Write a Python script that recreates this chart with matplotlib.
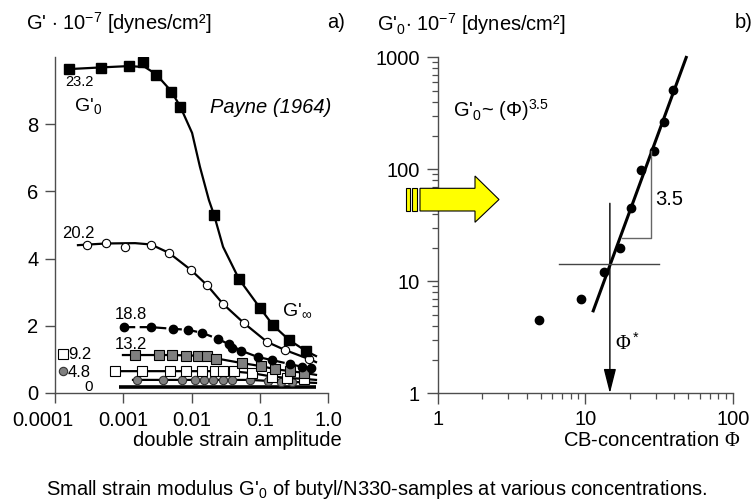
import numpy as np
import matplotlib
matplotlib.use('Agg')
import matplotlib.pyplot as plt
from matplotlib.patches import Polygon, Rectangle, FancyArrowPatch
from matplotlib.transforms import ScaledTranslation

plt.rcParams['font.family'] = ['Liberation Sans', 'DejaVu Sans']
plt.rcParams['mathtext.fontset'] = 'custom'
plt.rcParams['mathtext.rm'] = 'Liberation Sans'
plt.rcParams['mathtext.it'] = 'Liberation Sans:italic'
plt.rcParams['mathtext.bf'] = 'Liberation Sans:bold'
plt.rcParams['mathtext.sf'] = 'Liberation Serif'

# ---------------- data: panel a (G' vs double strain amplitude) ----------------
s232_x = [1.60e-4, 4.72e-4, 1.21e-3, 1.95e-3, 3.02e-3, 5.01e-3, 6.79e-3, 2.14e-2, 4.97e-2, 0.101, 0.156, 0.268, 0.476]
s232_y = [9.64, 9.67, 9.73, 9.85, 9.46, 8.96, 8.51, 5.30, 3.39, 2.53, 2.02, 1.58, 1.25]
s232_fit_x = [1.60e-4, 4.72e-4, 1.21e-3, 2.08e-3, 3.02e-3, 5.01e-3, 6.79e-3, 1.02e-2, 1.33e-2, 1.80e-2, 2.14e-2, 2.90e-2, 4.97e-2, 0.101, 0.156, 0.268, 0.476, 0.667]
s232_fit_y = [9.64, 9.69, 9.73, 9.70, 9.49, 8.99, 8.54, 7.74, 6.73, 5.74, 5.30, 4.35, 3.39, 2.53, 2.02, 1.58, 1.25, 1.10]

s202_x = [2.94e-4, 5.58e-4, 1.06e-3, 2.55e-3, 4.68e-3, 9.84e-3, 1.69e-2, 2.90e-2, 5.87e-2, 0.128, 0.234, 0.527]
s202_y = [4.40, 4.46, 4.35, 4.40, 4.17, 3.66, 3.21, 2.65, 2.08, 1.52, 1.28, 1.01]
s202_fit_x = [2.17e-4, 5.58e-4, 1.49e-3, 2.55e-3, 4.68e-3, 9.84e-3, 1.69e-2, 2.90e-2, 5.87e-2, 0.128, 0.234, 0.527, 0.667]
s202_fit_y = [4.40, 4.45, 4.46, 4.42, 4.17, 3.66, 3.21, 2.65, 2.08, 1.52, 1.28, 1.01, 0.92]

s188_x = [1.03e-3, 2.55e-3, 5.36e-3, 8.89e-3, 1.43e-2, 2.44e-2, 3.54e-2, 3.92e-2, 5.31e-2, 9.42e-2, 0.151, 0.277, 0.416, 0.564]
s188_y = [1.96, 1.96, 1.90, 1.88, 1.79, 1.61, 1.46, 1.34, 1.25, 1.07, 0.98, 0.86, 0.77, 0.74]
s188_fit_x = [1.03e-3, 2.55e-3, 5.36e-3, 8.89e-3, 1.43e-2, 2.44e-2, 3.54e-2, 5.31e-2, 9.42e-2, 0.151, 0.277, 0.416, 0.667]
s188_fit_y = [1.96, 1.96, 1.91, 1.88, 1.79, 1.61, 1.45, 1.26, 1.07, 0.98, 0.86, 0.78, 0.71]

s132_x = [1.49e-3, 3.34e-3, 5.18e-3, 8.30e-3, 1.24e-2, 1.69e-2, 2.29e-2, 5.50e-2, 0.104, 0.167, 0.277, 0.445]
s132_y = [1.13, 1.13, 1.13, 1.10, 1.10, 1.10, 1.01, 0.89, 0.80, 0.71, 0.65, 0.60]
s132_fit_x = [9.9e-4, 1.49e-3, 5.18e-3, 1.24e-2, 1.69e-2, 2.29e-2, 5.50e-2, 0.104, 0.167, 0.277, 0.445, 0.667]
s132_fit_y = [1.13, 1.13, 1.13, 1.11, 1.09, 1.03, 0.89, 0.80, 0.71, 0.65, 0.60, 0.54]

s92_x = [7.57e-4, 1.88e-3, 4.84e-3, 8.30e-3, 1.43e-2, 2.21e-2, 2.90e-2, 4.20e-2, 7.69e-2, 0.151, 0.251, 0.445]
s92_y = [0.65, 0.65, 0.65, 0.65, 0.64, 0.64, 0.65, 0.64, 0.60, 0.48, 0.45, 0.42]
s92_fit_x = [7.57e-4, 4.84e-3, 2.90e-2, 4.20e-2, 7.69e-2, 0.151, 0.251, 0.445, 0.667]
s92_fit_y = [0.65, 0.65, 0.65, 0.64, 0.59, 0.49, 0.45, 0.42, 0.39]

s48_x = [1.59e-3, 3.82e-3, 7.26e-3, 1.12e-2, 1.52e-2, 2.07e-2, 2.90e-2, 3.92e-2, 7.19e-2, 0.132, 0.205, 0.297]
s48_y = [0.39, 0.39, 0.39, 0.39, 0.39, 0.39, 0.39, 0.39, 0.39, 0.36, 0.33, 0.33]
s48_fit_x = [1.39e-3, 7.19e-2, 0.132, 0.205, 0.297, 0.667]
s48_fit_y = [0.39, 0.39, 0.36, 0.34, 0.33, 0.30]

s0_fit_x = [8.67e-4, 0.667]
s0_fit_y = [0.18, 0.18]

a_xticks = [1e-4, 1e-3, 1e-2, 1e-1, 1.0]
a_xticklabels = ["0.0001", "0.001", "0.01", "0.1", "1.0"]
a_yticks = [0, 2, 4, 6, 8]

# ---------------- data: panel b (G0' vs CB concentration) ----------------
conc = [4.84, 9.37, 13.4, 17.1, 20.5, 23.9, 29.1, 34.1, 39.6]
g0 = [4.51, 6.95, 12.2, 20.0, 44.9, 98.6, 147, 265, 511]
fit_conc = [11.24, 48.8]
fit_g0 = [5.29, 1027]
cross_h_x = [6.64, 31.7]
cross_h_y = [14.2, 14.2]
phi_star = 14.7
phi_arrow_top = 49.7
slope_x = [17.7, 27.8, 27.8]
slope_y = [24.2, 24.2, 147]
b_xticks = [1, 10, 100]
b_yticks = [1, 10, 100, 1000]

W, H = 753, 500
def fx(x): return x / W
def fy(y): return 1 - y / H

fig = plt.figure(figsize=(7.53, 5.0), dpi=100)
spine_c = '#4d4d4d'

# ---------------- panel a ----------------
axa = fig.add_axes([fx(55), fy(393), fx(328) - fx(55), fy(57) - fy(393)])
axa.set_xscale('log')
axa.set_xlim(1e-4, 1.0)
axa.set_ylim(0, 10)
for s in ['top', 'right']:
    axa.spines[s].set_visible(False)
for s in ['left', 'bottom']:
    axa.spines[s].set_color(spine_c)
    axa.spines[s].set_linewidth(1.0)
axa.set_xticks(a_xticks)
axa.set_xticklabels(a_xticklabels)
axa.xaxis.set_minor_locator(matplotlib.ticker.NullLocator())
axa.set_yticks(a_yticks)
axa.tick_params(direction='out', length=7, width=1, color=spine_c, labelsize=14.5)
axa.tick_params(axis='x', pad=6)
axa.tick_params(axis='y', pad=5)
first = axa.get_xticklabels()[0]
first.set_transform(first.get_transform() + ScaledTranslation(-0.12, 0, fig.dpi_scale_trans))

lw = 1.6
axa.plot(s0_fit_x, s0_fit_y, color='black', lw=2.6, solid_capstyle='butt')
axa.plot(s48_fit_x, s48_fit_y, color='black', lw=lw)
axa.plot(s48_x, s48_y, 'o', ms=6, mfc='#7f7f7f', mec='#333333', mew=0.8)
axa.plot(s92_fit_x, s92_fit_y, color='black', lw=lw)
axa.plot(s92_x, s92_y, 's', ms=6.5, mfc='white', mec='black', mew=0.8)
axa.plot(s132_fit_x, s132_fit_y, color='black', lw=lw)
axa.plot(s132_x, s132_y, 's', ms=6.5, mfc='#7f7f7f', mec='black', mew=0.8)
axa.plot(s188_fit_x, s188_fit_y, color='black', lw=lw, dashes=(5, 2))
axa.plot(s188_x, s188_y, 'o', ms=6, mfc='black', mec='black')
axa.plot(s202_fit_x, s202_fit_y, color='black', lw=lw)
axa.plot(s202_x, s202_y, 'o', ms=6, mfc='white', mec='black', mew=0.8)
axa.plot(s232_fit_x, s232_fit_y, color='black', lw=lw)
axa.plot(s232_x, s232_y, 's', ms=6.5, mfc='black', mec='black')

# in-plot labels
axa.text(2.25e-4, 9.26, "23.2", fontsize=10.5, ha='center', va='center')
axa.text(3.05e-4, 8.55, "G'$_0$", fontsize=14, ha='center', va='center')
axa.text(0.146, 8.51, "Payne (1964)", fontsize=14.5, style='italic', ha='center', va='center')
axa.text(2.17e-4, 4.76, "20.2", fontsize=12, ha='center', va='center')
axa.text(1.30e-3, 2.35, "18.8", fontsize=12, ha='center', va='center')
axa.text(1.30e-3, 1.43, "13.2", fontsize=12, ha='center', va='center')
axa.plot([1.29e-4], [1.16], 's', ms=6.5, mfc='white', mec='black', mew=0.8, clip_on=False)
axa.text(1.55e-4, 1.16, "9.2", fontsize=12, ha='left', va='center')
axa.plot([1.29e-4], [0.65], 'o', ms=6, mfc='#7f7f7f', mec='#333333', mew=0.8, clip_on=False)
axa.text(1.55e-4, 0.61, "4.8", fontsize=12, ha='left', va='center')
axa.text(3.15e-4, 0.19, "0", fontsize=11, ha='center', va='center')
axa.text(0.351, 2.45, r"G'$_\infty$", fontsize=14, ha='center', va='center')

fig.text(fx(26), fy(30), r"G' $\cdot$ 10$^{-7}$ [dynes/cm²]", fontsize=14.5, ha='left', va='baseline')
fig.text(fx(327), fy(28), "a)", fontsize=14.5, ha='left', va='baseline')
fig.text(fx(237), fy(441), "double strain amplitude", fontsize=14.5, ha='center', va='center')

# ---------------- panel b ----------------
axb = fig.add_axes([fx(437.7), fy(393.3), fx(732.7) - fx(437.7), fy(57.3) - fy(393.3)])
axb.set_xscale('log')
axb.set_yscale('log')
axb.set_xlim(1, 100)
axb.set_ylim(1, 1000)
for s in ['top', 'right']:
    axb.spines[s].set_visible(False)
for s in ['left', 'bottom']:
    axb.spines[s].set_color(spine_c)
    axb.spines[s].set_linewidth(1.0)
axb.set_xticks(b_xticks)
axb.set_xticklabels([str(v) for v in b_xticks])
axb.set_yticks(b_yticks)
axb.set_yticklabels([str(v) for v in b_yticks])
axb.tick_params(which='major', direction='out', length=8, width=1, color=spine_c, labelsize=14.5)
axb.tick_params(which='minor', direction='out', length=4.5, width=0.9, color=spine_c)
axb.tick_params(axis='x', which='major', pad=4)
axb.tick_params(axis='y', which='major', pad=5)

axb.plot(fit_conc, fit_g0, color='black', lw=2.2, clip_on=False, solid_capstyle='butt')
axb.plot(conc, g0, 'o', ms=6, mfc='black', mec='black')
axb.plot(cross_h_x, cross_h_y, color='#444444', lw=1.0)
axb.plot(slope_x, slope_y, color='#666666', lw=1.0)
arr = FancyArrowPatch((phi_star, phi_arrow_top), (phi_star, 1.0),
                      arrowstyle='-|>,head_length=1.5,head_width=0.38',
                      mutation_scale=10, color='black', lw=1.0,
                      shrinkA=0, shrinkB=0, transform=axb.transData)
axb.add_patch(arr)

axb.text(1.27, 338, r"G'$_0$~ (Φ)$^{3.5}$", fontsize=14.5, ha='left', va='center')
axb.text(29.7, 53.2, "3.5", fontsize=14.5, ha='left', va='center')
axb.text(15.9, 2.81, r"$\mathsf{\Phi}^*$", fontsize=14.5, ha='left', va='center')

fig.text(fx(377), fy(31), r"G'$_0$$\cdot$ 10$^{-7}$ [dynes/cm²]", fontsize=14.5, ha='left', va='baseline')
fig.text(fx(735), fy(28), "b)", fontsize=14.5, ha='left', va='baseline')
fig.text(fx(740), fy(440), r"CB-concentration $\mathsf{\Phi}$", fontsize=14.5, ha='right', va='center')

# yellow arrow
ycol = '#ffff00'
for x0, x1 in [(405.7, 410.5), (411.7, 417.3)]:
    fig.patches.append(Rectangle((fx(x0), fy(211)), fx(x1) - fx(x0), fy(188.3) - fy(211),
                                 transform=fig.transFigure, facecolor=ycol, edgecolor='black', lw=0.8))
arrow_pts = [(420, 188.3), (475, 188.3), (475, 176), (499, 199.5), (475, 222.3), (475, 211), (420, 211)]
fig.patches.append(Polygon([(fx(x), fy(y)) for x, y in arrow_pts], closed=True,
                           transform=fig.transFigure, facecolor=ycol, edgecolor='black', lw=0.8))

# caption
fig.text(fx(377), fy(495), r"Small strain modulus G'$_0$ of butyl/N330-samples at various concentrations.",
         fontsize=14.5, ha='center', va='baseline')

fig.savefig('out.png', dpi=100)
